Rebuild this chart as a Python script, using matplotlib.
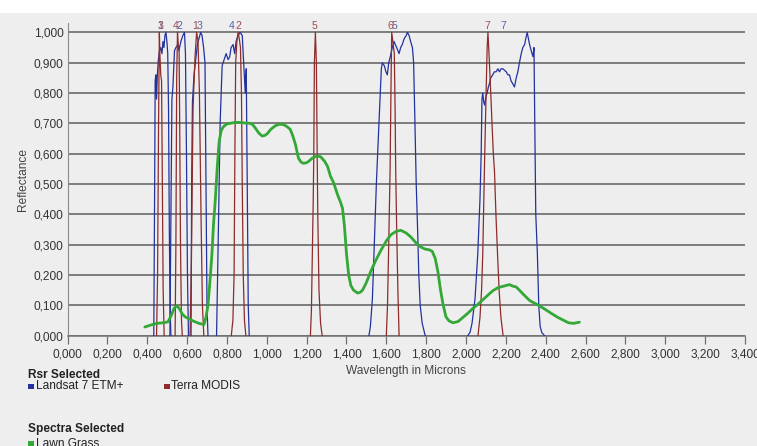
import matplotlib.pyplot as plt
from matplotlib.patches import Rectangle
from matplotlib.ticker import FuncFormatter, MultipleLocator

# --------------------------------------------------------------
#  DATA
# --------------------------------------------------------------

# Landsat 7 ETM+ relative spectral response, bands 1,2,3,4,5,7
landsat_bands = ["1", "2", "3", "4", "5", "7"]
landsat_centers = [0.466, 0.562, 0.662, 0.825, 1.640, 2.185]
landsat_wl = [
    [0.433, 0.437, 0.440, 0.443, 0.447, 0.451, 0.456, 0.462, 0.468, 0.474,
     0.479, 0.484, 0.489, 0.494, 0.499, 0.503, 0.507, 0.511, 0.515, 0.519],
    [0.514, 0.519, 0.524, 0.529, 0.537, 0.544, 0.554, 0.559, 0.569, 0.579,
     0.587, 0.592, 0.597, 0.602, 0.607],
    [0.620, 0.623, 0.627, 0.635, 0.645, 0.652, 0.660, 0.668, 0.675, 0.683,
     0.690, 0.695, 0.700, 0.705],
    [0.748, 0.756, 0.766, 0.776, 0.786, 0.796, 0.806, 0.814, 0.821, 0.831,
     0.839, 0.846, 0.856, 0.866, 0.877, 0.884, 0.892, 0.897, 0.902, 0.907,
     0.912],
    [1.513, 1.520, 1.530, 1.538, 1.550, 1.563, 1.575, 1.580, 1.590, 1.598,
     1.605, 1.612, 1.620, 1.630, 1.639, 1.645, 1.652, 1.658, 1.664, 1.672,
     1.680, 1.690, 1.700, 1.706, 1.714, 1.722, 1.731, 1.737, 1.743, 1.750,
     1.757, 1.763, 1.770, 1.780, 1.795],
    [2.009, 2.020, 2.030, 2.045, 2.059, 2.070, 2.076, 2.080, 2.084, 2.089,
     2.094, 2.100, 2.106, 2.112, 2.117, 2.124, 2.134, 2.142, 2.151, 2.160,
     2.168, 2.176, 2.185, 2.193, 2.202, 2.210, 2.218, 2.226, 2.235, 2.243,
     2.252, 2.260, 2.268, 2.277, 2.285, 2.294, 2.300, 2.307, 2.313, 2.319,
     2.327, 2.336, 2.341, 2.345, 2.350, 2.358, 2.365, 2.372, 2.380, 2.393],
]
landsat_rsr = [
    [0.0, 0.45, 0.84, 0.86, 0.78, 0.86, 0.91, 0.94, 0.95, 0.93,
     0.97, 0.95, 0.99, 1.0, 0.97, 0.93, 0.75, 0.35, 0.08, 0.0],
    [0.0, 0.40, 0.78, 0.82, 0.94, 0.95, 0.96, 0.94, 0.97, 0.99,
     1.0, 0.93, 0.60, 0.20, 0.0],
    [0.0, 0.50, 0.77, 0.86, 0.92, 0.96, 0.98, 1.0, 0.99, 0.95,
     0.90, 0.50, 0.10, 0.0],
    [0.0, 0.30, 0.70, 0.89, 0.91, 0.93, 0.91, 0.92, 0.95, 0.96,
     0.93, 0.97, 0.99, 1.0, 0.99, 0.90, 0.80, 0.88, 0.50, 0.10,
     0.0],
    [0.0, 0.03, 0.12, 0.27, 0.50, 0.70, 0.88, 0.90, 0.89, 0.87,
     0.86, 0.90, 0.92, 0.95, 0.97, 0.96, 0.95, 0.94, 0.93, 0.95,
     0.96, 0.98, 0.99, 1.0, 0.99, 0.97, 0.95, 0.90, 0.72, 0.50,
     0.35, 0.20, 0.10, 0.04, 0.0],
    [0.0, 0.01, 0.04, 0.12, 0.27, 0.45, 0.60, 0.78, 0.80, 0.77,
     0.76, 0.79, 0.80, 0.82, 0.83, 0.85, 0.86, 0.87, 0.87, 0.88,
     0.87, 0.88, 0.88, 0.875, 0.87, 0.86, 0.86, 0.84, 0.83, 0.82,
     0.85, 0.87, 0.90, 0.93, 0.95, 0.96, 0.98, 1.0, 0.98, 0.96,
     0.94, 0.92, 0.95, 0.70, 0.40, 0.27, 0.10, 0.03, 0.01, 0.0],
]

# Terra MODIS relative spectral response, bands 3,4,1,2,5,6,7
modis_bands = ["3", "4", "1", "2", "5", "6", "7"]
modis_centers = [0.466, 0.543, 0.640, 0.858, 1.240, 1.622, 2.106]
modis_wl = [
    [0.447, 0.452, 0.457, 0.461, 0.464, 0.468, 0.472, 0.476, 0.480, 0.485],
    [0.540, 0.544, 0.548, 0.552, 0.556, 0.560, 0.563, 0.567, 0.572, 0.576],
    [0.615, 0.622, 0.630, 0.640, 0.648, 0.655, 0.662, 0.670, 0.677, 0.684],
    [0.822, 0.830, 0.836, 0.840, 0.844, 0.850, 0.856, 0.862, 0.868, 0.873,
     0.877, 0.882, 0.888, 0.895],
    [1.219, 1.224, 1.228, 1.233, 1.236, 1.239, 1.244, 1.249, 1.253, 1.256,
     1.262, 1.270, 1.278],
    [1.600, 1.606, 1.612, 1.619, 1.624, 1.627, 1.633, 1.640, 1.644, 1.647,
     1.652, 1.658, 1.664],
    [2.060, 2.070, 2.078, 2.084, 2.092, 2.100, 2.106, 2.110, 2.116, 2.124,
     2.131, 2.137, 2.143, 2.150, 2.158, 2.166, 2.175, 2.186],
]
modis_rsr = [
    [0.0, 0.20, 0.70, 1.0, 0.92, 0.86, 0.84, 0.50, 0.15, 0.0],
    [0.0, 0.30, 0.85, 1.0, 0.96, 0.95, 0.70, 0.30, 0.05, 0.0],
    [0.0, 0.25, 0.75, 0.92, 1.0, 0.97, 0.80, 0.40, 0.10, 0.0],
    [0.0, 0.05, 0.20, 0.60, 0.90, 0.97, 1.0, 0.98, 0.95, 0.80,
     0.50, 0.20, 0.05, 0.0],
    [0.0, 0.08, 0.24, 0.44, 0.60, 0.90, 1.0, 0.90, 0.60, 0.40,
     0.15, 0.04, 0.0],
    [0.0, 0.10, 0.30, 0.55, 0.85, 1.0, 0.97, 0.93, 0.75, 0.55,
     0.35, 0.15, 0.0],
    [0.0, 0.06, 0.15, 0.27, 0.54, 0.78, 0.95, 1.0, 0.92, 0.80,
     0.69, 0.60, 0.54, 0.40, 0.27, 0.15, 0.06, 0.0],
]

# Lawn grass reflectance spectrum
grass_wl = [
    0.388, 0.420, 0.448, 0.480, 0.504, 0.520, 0.535, 0.549, 0.562, 0.575,
    0.589, 0.610, 0.630, 0.660, 0.685, 0.695, 0.705, 0.715, 0.725, 0.733,
    0.741, 0.751, 0.761, 0.771, 0.781, 0.800, 0.816, 0.840, 0.866, 0.890,
    0.917, 0.930, 0.942, 0.960, 0.977, 0.990, 1.003, 1.020, 1.043, 1.063,
    1.083, 1.100, 1.118, 1.130, 1.144, 1.159, 1.172, 1.184, 1.200, 1.209,
    1.230, 1.250, 1.270, 1.290, 1.305, 1.320, 1.335, 1.355, 1.370, 1.380,
    1.390, 1.400, 1.411, 1.422, 1.435, 1.456, 1.470, 1.481, 1.500, 1.521,
    1.545, 1.572, 1.600, 1.622, 1.650, 1.673, 1.700, 1.723, 1.750, 1.773,
    1.795, 1.814, 1.830, 1.845, 1.859, 1.872, 1.884, 1.899, 1.915, 1.935,
    1.960, 1.985, 2.010, 2.035, 2.060, 2.085, 2.111, 2.135, 2.161, 2.190,
    2.217, 2.235, 2.252, 2.270, 2.292, 2.320, 2.363, 2.400, 2.428, 2.460,
    2.490, 2.514, 2.540, 2.569,
]
grass_refl = [
    0.028, 0.035, 0.040, 0.042, 0.045, 0.065, 0.090, 0.098, 0.088, 0.072,
    0.062, 0.055, 0.048, 0.040, 0.036, 0.060, 0.100, 0.180, 0.270, 0.370,
    0.440, 0.550, 0.640, 0.675, 0.688, 0.698, 0.700, 0.703, 0.703, 0.701,
    0.700, 0.695, 0.685, 0.668, 0.658, 0.660, 0.666, 0.680, 0.692, 0.697,
    0.696, 0.690, 0.680, 0.660, 0.630, 0.585, 0.572, 0.568, 0.570, 0.574,
    0.586, 0.592, 0.590, 0.575, 0.558, 0.525, 0.505, 0.465, 0.440, 0.420,
    0.360, 0.270, 0.200, 0.165, 0.150, 0.140, 0.143, 0.150, 0.175, 0.210,
    0.245, 0.280, 0.312, 0.332, 0.344, 0.347, 0.338, 0.325, 0.305, 0.292,
    0.285, 0.283, 0.278, 0.255, 0.210, 0.150, 0.105, 0.062, 0.048, 0.042,
    0.046, 0.060, 0.074, 0.090, 0.103, 0.118, 0.134, 0.148, 0.158, 0.163,
    0.168, 0.163, 0.160, 0.148, 0.133, 0.115, 0.100, 0.085, 0.073, 0.060,
    0.050, 0.042, 0.040, 0.044,
]

# --------------------------------------------------------------
#  STYLE
# --------------------------------------------------------------

BG = "#eeeeee"
BLUE = "#22339e"
RED = "#8e2b2b"
GREEN = "#33a836"
GRID = "#5e5e5e"
TXT = "#333333"

plt.rcParams["font.family"] = ["Liberation Sans", "DejaVu Sans"]
plt.rcParams["font.size"] = 8.6

W, H = 757, 446
fig = plt.figure(figsize=(W / 100, H / 100), dpi=100, facecolor=BG)

# white strip across the top of the panel
fig.patches.append(Rectangle((0, 1 - 12.5 / H), 1, 12.5 / H,
                             transform=fig.transFigure, facecolor="white",
                             edgecolor="none", zorder=0))

ax = fig.add_axes([67.5 / W, 110.5 / H, 677.5 / W, 312.8 / H])
ax.set_facecolor(BG)

# --------------------------------------------------------------
#  CURVES
# --------------------------------------------------------------

for wl, rsr in zip(landsat_wl, landsat_rsr):
    ax.plot(wl, rsr, color=BLUE, lw=0.9, zorder=3)

for wl, rsr in zip(modis_wl, modis_rsr):
    ax.plot(wl, rsr, color=RED, lw=0.9, zorder=3)

ax.plot(grass_wl, grass_refl, color=GREEN, lw=2.0, zorder=4,
        solid_capstyle="round", solid_joinstyle="round")

# band numbers above the peaks (MODIS drawn last, sits on top)
for x, lab in zip(landsat_centers, landsat_bands):
    ax.text(x, 1.006, lab, color="#5563a8", fontsize=7.6,
            ha="center", va="bottom", clip_on=False)
for x, lab in zip(modis_centers, modis_bands):
    ax.text(x, 1.006, lab, color="#a04c4c", fontsize=7.6,
            ha="center", va="bottom", clip_on=False)

# --------------------------------------------------------------
#  AXES
# --------------------------------------------------------------

ax.set_xlim(0, 3.4)
ax.set_ylim(0, 1.032)

comma = FuncFormatter(lambda v, p: f"{v:.3f}".replace(".", ","))
ax.xaxis.set_major_locator(MultipleLocator(0.2))
ax.yaxis.set_major_locator(MultipleLocator(0.1))
ax.xaxis.set_major_formatter(comma)
ax.yaxis.set_major_formatter(comma)

ax.grid(axis="y", color=GRID, lw=1.1, zorder=1)
ax.set_axisbelow(True)

for s in ("top", "right"):
    ax.spines[s].set_visible(False)
ax.spines["left"].set_color("#8a8a8a")
ax.spines["bottom"].set_color("#707070")
ax.spines["bottom"].set_linewidth(1.1)

ax.tick_params(axis="x", direction="out", length=5.5, width=0.9,
               color="#707070", pad=4, labelcolor=TXT)
ax.tick_params(axis="y", length=0, pad=3, labelcolor=TXT)

ax.set_xlabel("Wavelength in Microns", color="#444444", labelpad=3)
ax.set_ylabel("Reflectance", color="#444444", labelpad=3)

# --------------------------------------------------------------
#  LEGEND BLOCK (bottom left)
# --------------------------------------------------------------

def fy(py):
    return 1 - py / H

def fx(px):
    return px / W

def swatch(px, py, color):
    fig.patches.append(Rectangle((fx(px), fy(py + 3)), 5.5 / W, 5.5 / H,
                                 transform=fig.transFigure, facecolor=color,
                                 edgecolor="none"))

fig.text(fx(28), fy(375), "Rsr Selected", fontweight="bold", color="#222222",
         va="center", ha="left")
swatch(28, 386, BLUE)
fig.text(fx(36), fy(386), "Landsat 7 ETM+", color="#222222", va="center")
swatch(164, 386, RED)
fig.text(fx(171), fy(386), "Terra MODIS", color="#222222", va="center")

fig.text(fx(28), fy(429), "Spectra Selected", fontweight="bold",
         color="#222222", va="center", ha="left")
swatch(28, 443, GREEN)
fig.text(fx(36), fy(444), "Lawn Grass", color="#222222", va="center")

fig.savefig("out.png", dpi=100, facecolor=BG)
